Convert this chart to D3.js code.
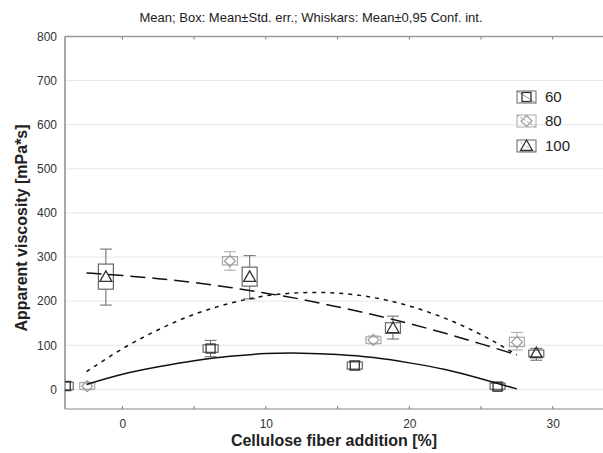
<!DOCTYPE html>
<html>
<head>
<meta charset="utf-8">
<script src="https://cdn.jsdelivr.net/npm/d3@7"></script>
<style>
  body { margin: 0; background: #fff; }
  text { font-family: "Liberation Sans", Arial, sans-serif; }
</style>
</head>
<body>
<div id="chart"></div>
<script>
// Data ---------------------------------------------------
const seriesNames = ["60", "80", "100"]

// 60 (squares)
const x60 = [-3.95, 6.15, 16.2, 26.15]
const mean60 = [7.5, 92.5, 54, 6]
const boxLo60 = [-1, 84, 46, 0]
const boxHi60 = [16, 101, 62, 14]
const ciLo60 = [-3, 74, 44, -2]
const ciHi60 = [18, 111, 64, 16]

// 80 (diamonds)
const x80 = [-2.45, 7.5, 17.5, 27.5]
const mean80 = [7, 291, 112, 107]
const boxLo80 = [0, 282, 104, 97]
const boxHi80 = [15, 301, 119, 118]
const ciLo80 = [-1, 270, 103, 89]
const ciHi80 = [16, 312, 121, 129]

// 100 (triangles)
const x100 = [-1.15, 8.87, 18.86, 28.85]
const mean100 = [255, 255, 139, 82]
const boxLo100 = [227, 234, 127, 74]
const boxHi100 = [284, 277, 151, 89]
const ciLo100 = [191, 205, 114, 66]
const ciHi100 = [318, 303, 166, 93]

// fitted curves
const fitX = [-2.5, 0, 2.5, 5, 7.5, 10, 12.5, 15, 17.5, 20, 22.5, 25, 27.5]
const fit60 = [11, 34, 51, 65, 75, 81, 82, 79, 72, 60, 45, 24, 1]
const fit80 = [40, 92, 135, 170, 195, 212, 219, 218, 208, 189, 161, 124, 78]
const fit100 = [264, 258, 251, 242, 231, 218, 204, 187, 169, 149, 127, 103, 78]

const xTicks = [0, 10, 20, 30]
const xMinorTicks = [0, 5, 10, 15, 20, 25, 30]
const yTicks = [0, 100, 200, 300, 400, 500, 600, 700, 800]

// Canvas setup -------------------------------------------
const W = 603, H = 453
const PLOT = {LEFT: 65, RIGHT: 603, TOP: 36.5, BOTTOM: 409}

const svg = d3.select("#chart").append("svg")
  .attr("width", W)
  .attr("height", H)

svg.append("defs").append("clipPath").attr("id", "plotclip")
  .append("rect")
  .attr("x", PLOT.LEFT).attr("y", PLOT.TOP)
  .attr("width", PLOT.RIGHT - PLOT.LEFT)
  .attr("height", PLOT.BOTTOM - PLOT.TOP)

// Scales -------------------------------------------------
const xScale = d3.scaleLinear().domain([-4, 33.5]).range([PLOT.LEFT, PLOT.RIGHT])
const yScale = d3.scaleLinear().domain([-44.6, 800]).range([PLOT.BOTTOM, PLOT.TOP])

// Grid ---------------------------------------------------
svg.append("g").selectAll("line")
  .data(yTicks.filter(d => d < 800))
  .join("line")
    .attr("x1", PLOT.LEFT).attr("x2", PLOT.RIGHT)
    .attr("y1", d => yScale(d)).attr("y2", d => yScale(d))
    .attr("stroke", "#e6e6e6")
    .attr("stroke-width", 1)

// Axes ---------------------------------------------------
const yAxis = d3.axisLeft(yScale).tickValues(yTicks).tickSize(0).tickPadding(8)
const gy = svg.append("g")
  .attr("transform", `translate(${PLOT.LEFT},0)`)
  .call(yAxis)
gy.select(".domain").remove()
gy.selectAll("text").attr("font-size", 12).attr("fill", "#333")
  .attr("font-family", "Liberation Sans, Arial, sans-serif")

const xAxis = d3.axisBottom(xScale).tickValues(xTicks).tickSize(0).tickPadding(10)
const gx = svg.append("g")
  .attr("transform", `translate(0,${PLOT.BOTTOM})`)
  .call(xAxis)
gx.select(".domain").remove()
gx.selectAll("text").attr("font-size", 12).attr("fill", "#333")
  .attr("font-family", "Liberation Sans, Arial, sans-serif")

// inner ticks on top and bottom
svg.append("g").selectAll("line")
  .data(xMinorTicks)
  .join("line")
    .attr("x1", d => xScale(d)).attr("x2", d => xScale(d))
    .attr("y1", PLOT.BOTTOM).attr("y2", PLOT.BOTTOM - 3)
    .attr("stroke", "#777")
svg.append("g").selectAll("line")
  .data(xMinorTicks)
  .join("line")
    .attr("x1", d => xScale(d)).attr("x2", d => xScale(d))
    .attr("y1", PLOT.TOP).attr("y2", PLOT.TOP + 3)
    .attr("stroke", "#777")

// frame lines
svg.append("line")
  .attr("x1", PLOT.LEFT).attr("x2", PLOT.RIGHT)
  .attr("y1", PLOT.TOP).attr("y2", PLOT.TOP)
  .attr("stroke", "#999").attr("stroke-width", 1.5)
svg.append("line")
  .attr("x1", PLOT.LEFT).attr("x2", PLOT.RIGHT)
  .attr("y1", PLOT.BOTTOM).attr("y2", PLOT.BOTTOM)
  .attr("stroke", "#888").attr("stroke-width", 1.2)
svg.append("line")
  .attr("x1", PLOT.LEFT).attr("x2", PLOT.LEFT)
  .attr("y1", PLOT.TOP).attr("y2", PLOT.BOTTOM)
  .attr("stroke", "#888").attr("stroke-width", 1.5)

// Boxes and whiskers -------------------------------------
const groups = [
  {name: "60", x: x60, mean: mean60, lo: boxLo60, hi: boxHi60, clo: ciLo60, chi: ciHi60,
   boxColor: "#666", markColor: "#333", shape: "square"},
  {name: "80", x: x80, mean: mean80, lo: boxLo80, hi: boxHi80, clo: ciLo80, chi: ciHi80,
   boxColor: "#aaa", markColor: "#999", shape: "diamond"},
  {name: "100", x: x100, mean: mean100, lo: boxLo100, hi: boxHi100, clo: ciLo100, chi: ciHi100,
   boxColor: "#666", markColor: "#333", shape: "triangle"}
]

const marks = svg.append("g").attr("clip-path", "url(#plotclip)")

function drawMarker(g, shape, cx, cy, color) {
  if (shape === "square") {
    g.append("rect")
      .attr("x", cx - 4.5).attr("y", cy - 4.5)
      .attr("width", 9).attr("height", 9)
      .attr("fill", "none").attr("stroke", color).attr("stroke-width", 1.3)
  } else if (shape === "diamond") {
    g.append("path")
      .attr("d", `M${cx},${cy - 5.5}L${cx + 5.5},${cy}L${cx},${cy + 5.5}L${cx - 5.5},${cy}Z`)
      .attr("fill", "none").attr("stroke", color).attr("stroke-width", 1.2)
  } else {
    g.append("path")
      .attr("d", `M${cx},${cy - 6}L${cx + 6},${cy + 4.5}L${cx - 6},${cy + 4.5}Z`)
      .attr("fill", "none").attr("stroke", color).attr("stroke-width", 1.3)
  }
}

groups.forEach(s => {
  s.x.forEach((xv, i) => {
    const cx = xScale(xv)
    const g = marks.append("g")
    const half = 7.5, cap = 6
    // whiskers
    g.append("line")
      .attr("x1", cx).attr("x2", cx)
      .attr("y1", yScale(s.chi[i])).attr("y2", yScale(s.hi[i]))
      .attr("stroke", s.boxColor)
    g.append("line")
      .attr("x1", cx).attr("x2", cx)
      .attr("y1", yScale(s.lo[i])).attr("y2", yScale(s.clo[i]))
      .attr("stroke", s.boxColor)
    g.append("line")
      .attr("x1", cx - cap).attr("x2", cx + cap)
      .attr("y1", yScale(s.chi[i])).attr("y2", yScale(s.chi[i]))
      .attr("stroke", s.boxColor)
    g.append("line")
      .attr("x1", cx - cap).attr("x2", cx + cap)
      .attr("y1", yScale(s.clo[i])).attr("y2", yScale(s.clo[i]))
      .attr("stroke", s.boxColor)
    // box
    g.append("rect")
      .attr("x", cx - half).attr("y", yScale(s.hi[i]))
      .attr("width", 2 * half)
      .attr("height", yScale(s.lo[i]) - yScale(s.hi[i]))
      .attr("fill", "none")
      .attr("stroke", s.boxColor)
      .attr("stroke-width", 1.2)
    drawMarker(g, s.shape, cx, yScale(s.mean[i]), s.markColor)
  })
})

// Fitted curves ------------------------------------------
const line = d3.line()
  .x(d => xScale(d[0]))
  .y(d => yScale(d[1]))
  .curve(d3.curveNatural)

const fits = [
  {vals: fit60, dash: null},
  {vals: fit80, dash: "4,5"},
  {vals: fit100, dash: "15,7"}
]
fits.forEach(f => {
  marks.append("path")
    .attr("d", line(fitX.map((x, i) => [x, f.vals[i]])))
    .attr("fill", "none")
    .attr("stroke", "#111")
    .attr("stroke-width", 1.5)
    .attr("stroke-dasharray", f.dash)
})

// Legend -------------------------------------------------
const legendY = [97, 121, 146]
const legend = svg.append("g")
seriesNames.forEach((name, i) => {
  const s = groups[i]
  const y = legendY[i]
  const g = legend.append("g")
  g.append("rect")
    .attr("x", 517).attr("y", y - 6)
    .attr("width", 19).attr("height", 12)
    .attr("fill", "none").attr("stroke", s.boxColor).attr("stroke-width", 1)
  g.append("line")
    .attr("x1", 517).attr("y1", y - 6).attr("x2", 536).attr("y2", y + 6)
    .attr("stroke", "#777").attr("stroke-width", 0.8)
    .attr("stroke-dasharray", fits[i].dash ? "2,2" : null)
  drawMarker(g, s.shape, 526.5, y, s.markColor)
  g.append("text")
    .attr("x", 545).attr("y", y + 5)
    .attr("font-size", 15)
    .attr("fill", "#222")
    .text(name)
})

// Titles -------------------------------------------------
svg.append("text")
  .attr("x", 311).attr("y", 22)
  .attr("text-anchor", "middle")
  .attr("font-size", 13)
  .attr("fill", "#222")
  .text("Mean; Box: Mean±Std. err.; Whiskars: Mean±0,95 Conf. int.")

svg.append("text")
  .attr("x", 334).attr("y", 446)
  .attr("text-anchor", "middle")
  .attr("font-size", 16)
  .attr("font-weight", "bold")
  .attr("fill", "#222")
  .text("Cellulose fiber addition [%]")

svg.append("text")
  .attr("transform", "translate(27,228) rotate(-90)")
  .attr("text-anchor", "middle")
  .attr("font-size", 16)
  .attr("font-weight", "bold")
  .attr("fill", "#222")
  .text("Apparent viscosity [mPa*s]")
</script>
</body>
</html>
